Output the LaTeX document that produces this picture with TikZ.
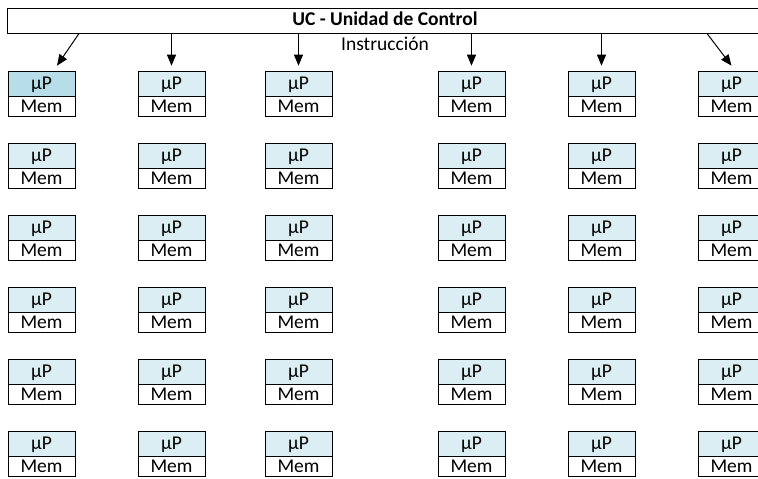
\documentclass[tikz,border=0pt]{standalone}
\usepackage{fontspec}
\setmainfont{Carlito}
\usetikzlibrary{shapes.multipart,arrows.meta}

\definecolor{peblue}{HTML}{DAEEF3}
\definecolor{peactive}{HTML}{B7DEE8}

\begin{document}
\begin{tikzpicture}[
    x=1pt, y=-1pt, line width=1pt,
    every node/.style={font=\fontsize{19.5}{23}\selectfont, inner sep=0pt,
        text height=13pt, text depth=3pt},
    pe/.style={draw, rectangle split, rectangle split parts=2,
        rectangle split part fill={peblue,white},
        text width=67pt, align=center, text height=14pt, text depth=3pt,
        inner ysep=3.5pt},
    pefirst/.style={pe, rectangle split part fill={peactive,white}},
    arr/.style={-{Triangle[length=11pt,width=9pt]}}
]

\useasboundingbox (0,0) rectangle (758,479);

% Column x positions (px): two blocks of three
\def\ca{41.5}
\def\cb{171.5}
\def\cc{298.5}
\def\cd{471.5}
\def\ce{601.5}
\def\cf{731.5}
% Row y positions (px)
\def\ra{94}
\def\rb{166}
\def\rc{238}
\def\rd{310}
\def\re{382}
\def\rf{454}

% control unit
\node[draw, minimum width=756pt, minimum height=25pt, font=\fontsize{19.5}{23}\selectfont\bfseries]
    (uc) at (385,20.5) {UC - Unidad de Control};
\node (instr) at (385,45) {Instrucción};

% row 1
\node[pefirst] (p11) at (\ca,\ra) {μP\nodepart{two}Mem};
\node[pe] (p12) at (\cb,\ra) {μP\nodepart{two}Mem};
\node[pe] (p13) at (\cc,\ra) {μP\nodepart{two}Mem};
\node[pe] (p14) at (\cd,\ra) {μP\nodepart{two}Mem};
\node[pe] (p15) at (\ce,\ra) {μP\nodepart{two}Mem};
\node[pe] (p16) at (\cf,\ra) {μP\nodepart{two}Mem};

% row 2
\node[pe] (p21) at (\ca,\rb) {μP\nodepart{two}Mem};
\node[pe] (p22) at (\cb,\rb) {μP\nodepart{two}Mem};
\node[pe] (p23) at (\cc,\rb) {μP\nodepart{two}Mem};
\node[pe] (p24) at (\cd,\rb) {μP\nodepart{two}Mem};
\node[pe] (p25) at (\ce,\rb) {μP\nodepart{two}Mem};
\node[pe] (p26) at (\cf,\rb) {μP\nodepart{two}Mem};

% row 3
\node[pe] (p31) at (\ca,\rc) {μP\nodepart{two}Mem};
\node[pe] (p32) at (\cb,\rc) {μP\nodepart{two}Mem};
\node[pe] (p33) at (\cc,\rc) {μP\nodepart{two}Mem};
\node[pe] (p34) at (\cd,\rc) {μP\nodepart{two}Mem};
\node[pe] (p35) at (\ce,\rc) {μP\nodepart{two}Mem};
\node[pe] (p36) at (\cf,\rc) {μP\nodepart{two}Mem};

% row 4
\node[pe] (p41) at (\ca,\rd) {μP\nodepart{two}Mem};
\node[pe] (p42) at (\cb,\rd) {μP\nodepart{two}Mem};
\node[pe] (p43) at (\cc,\rd) {μP\nodepart{two}Mem};
\node[pe] (p44) at (\cd,\rd) {μP\nodepart{two}Mem};
\node[pe] (p45) at (\ce,\rd) {μP\nodepart{two}Mem};
\node[pe] (p46) at (\cf,\rd) {μP\nodepart{two}Mem};

% row 5
\node[pe] (p51) at (\ca,\re) {μP\nodepart{two}Mem};
\node[pe] (p52) at (\cb,\re) {μP\nodepart{two}Mem};
\node[pe] (p53) at (\cc,\re) {μP\nodepart{two}Mem};
\node[pe] (p54) at (\cd,\re) {μP\nodepart{two}Mem};
\node[pe] (p55) at (\ce,\re) {μP\nodepart{two}Mem};
\node[pe] (p56) at (\cf,\re) {μP\nodepart{two}Mem};

% row 6
\node[pe] (p61) at (\ca,\rf) {μP\nodepart{two}Mem};
\node[pe] (p62) at (\cb,\rf) {μP\nodepart{two}Mem};
\node[pe] (p63) at (\cc,\rf) {μP\nodepart{two}Mem};
\node[pe] (p64) at (\cd,\rf) {μP\nodepart{two}Mem};
\node[pe] (p65) at (\ce,\rf) {μP\nodepart{two}Mem};
\node[pe] (p66) at (\cf,\rf) {μP\nodepart{two}Mem};

% instruction broadcast to the first row
\draw[arr] ([xshift=-306pt]uc.south) -- ([xshift=15.5pt,yshift=5pt]p11.north);
\draw[arr] (uc.south -| p12.north) -- ([yshift=5pt]p12.north);
\draw[arr] (uc.south -| p13.north) -- ([yshift=5pt]p13.north);
\draw[arr] (uc.south -| p14.north) -- ([yshift=5pt]p14.north);
\draw[arr] (uc.south -| p15.north) -- ([yshift=5pt]p15.north);
\draw[arr] ([xshift=322pt]uc.south) -- ([yshift=5pt]p16.north);

\end{tikzpicture}
\end{document}
